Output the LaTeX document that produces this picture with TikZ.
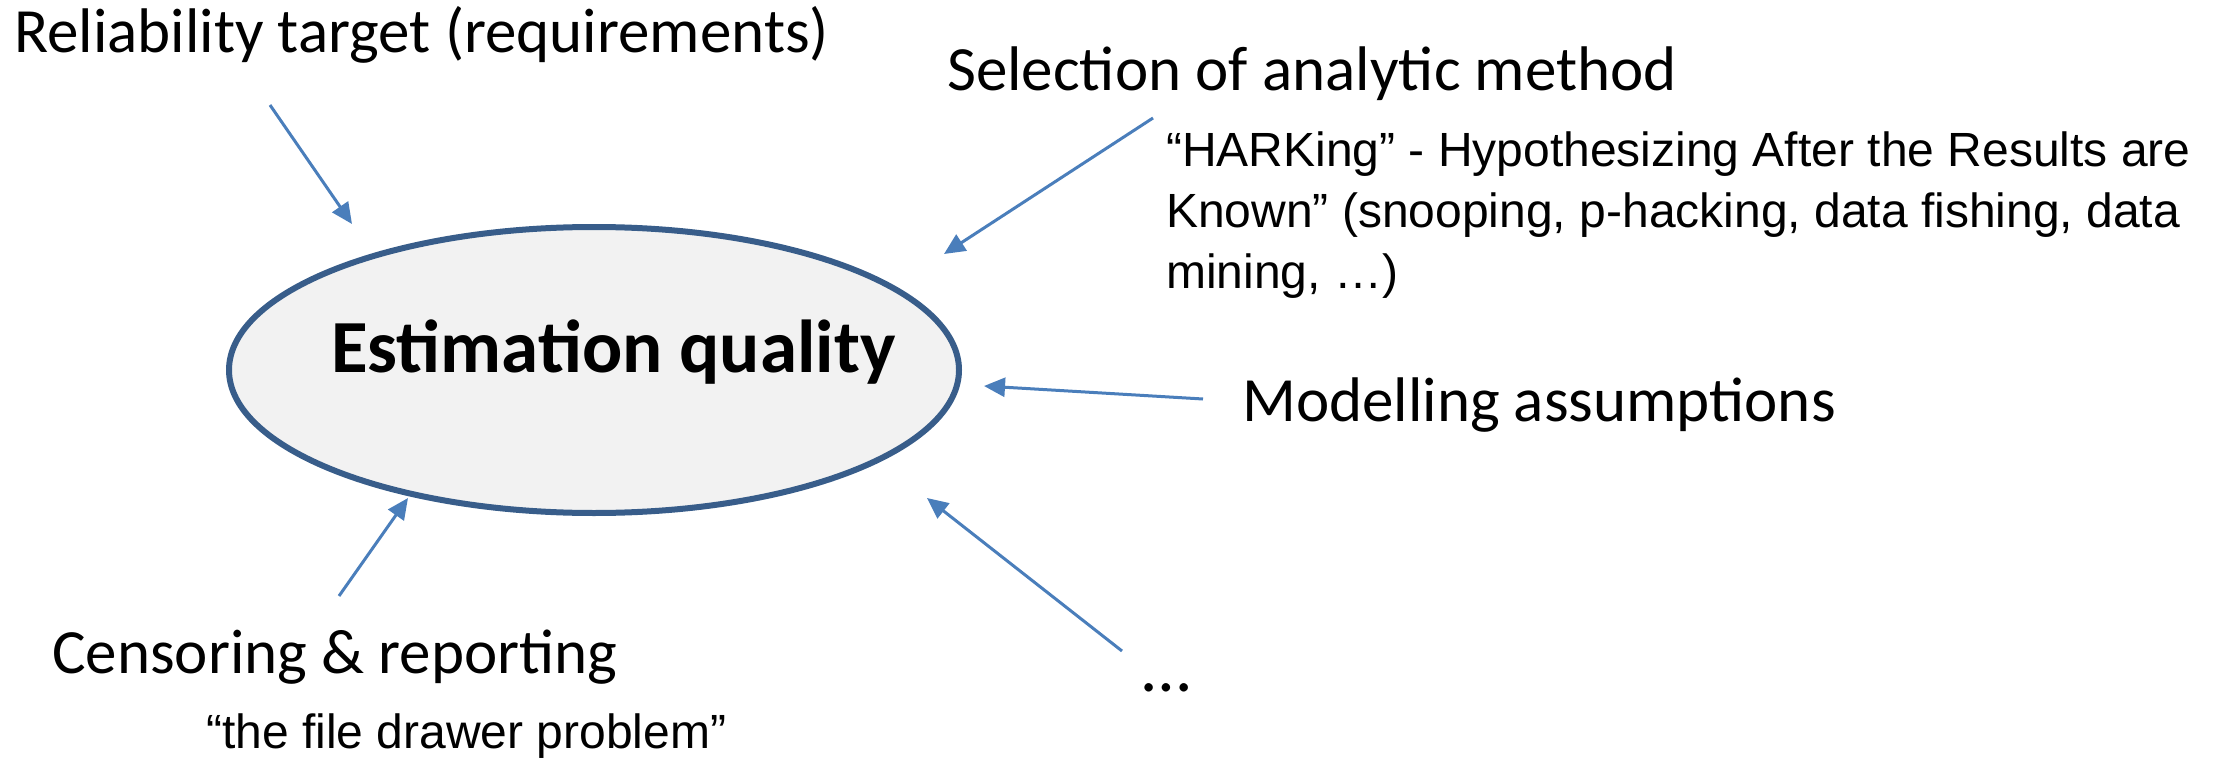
\documentclass[tikz,border=0pt]{standalone}
\usepackage{fontspec}
\setmainfont{Carlito}
\newfontfamily\arialfont{Liberation Sans}
\usetikzlibrary{arrows.meta}
\definecolor{arrowblue}{HTML}{4A7EBB}
\definecolor{rimblue}{HTML}{385D8A}
\definecolor{paleg}{HTML}{F2F2F2}
\begin{document}
\begin{tikzpicture}[x=1pt,y=1pt,
  label/.style={anchor=base west,inner sep=0pt,font=\fontsize{63}{76}\selectfont},
  note/.style={anchor=base west,inner sep=0pt,align=left,font=\arialfont\fontsize{48}{61}\selectfont},
  feed/.style={draw=arrowblue,line width=3pt,-{Triangle[length=21pt,width=19pt]}}]
\useasboundingbox (0,0) rectangle (2225,-765);

% central ellipse
\draw[rimblue,fill=paleg,line width=6pt] (594,-370) ellipse [x radius=365,y radius=143];
\node[anchor=base west,inner sep=0pt,font=\bfseries\fontsize{75}{88}\selectfont] (eq) at (331,-372) {Estimation quality};

% surrounding factors
\node[label] (rel) at (14,-53) {Reliability target (requirements)};
\node[label] (sel) at (947,-91) {Selection of analytic method};
% base of a multi-line node sits on its last line
\node[note] (hark) at (1166,-288) {“HARKing” - Hypothesizing After the Results are\\Known” (snooping, p-hacking, data fishing, data\\mining, …)};
\node[label] (mod) at (1242,-421) {Modelling assumptions};
\node[label] (cens) at (52,-673) {Censoring \& reporting};
\node[note] (drawer) at (206,-748) {“the file drawer problem”};
\node[label,font=\fontsize{70}{80}\selectfont] (etc) at (1142,-691) {…};

% arrow ends
\coordinate (a1s) at (270,-105);  \coordinate (a1e) at (352,-224);
\coordinate (a2s) at (1153,-118); \coordinate (a2e) at (944,-254);
\coordinate (a3s) at (1203,-399); \coordinate (a3e) at (984,-386);
\coordinate (a4s) at (339,-596);  \coordinate (a4e) at (408,-498);
\coordinate (a5s) at (1122,-651); \coordinate (a5e) at (927,-498);

\draw[feed] (a1s) -- (a1e);
\draw[feed] (a2s) -- (a2e);
\draw[feed] (a3s) -- (a3e);
\draw[feed] (a4s) -- (a4e);
\draw[feed] (a5s) -- (a5e);
\end{tikzpicture}
\end{document}
